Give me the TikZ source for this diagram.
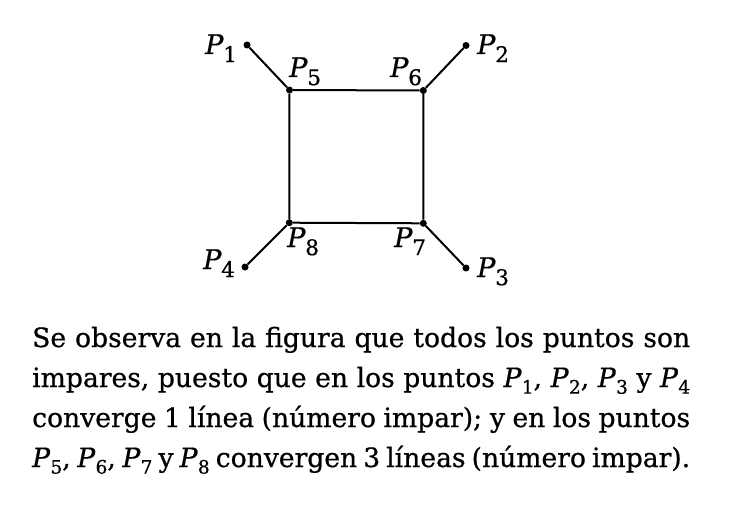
\documentclass[tikz,border=0pt]{standalone}
\usepackage{fontspec}
\setmainfont{DejaVu Serif}[FakeBold=0.7]
\usepackage{graphicx}
\usepackage{tikz}
\usetikzlibrary{calc}

\newcommand{\Pd}[1]{\textit{P}\kern-0.5pt\raisebox{-0.3em}{\scalebox{0.8}{#1}}}
\newcommand{\Pt}[1]{\textit{P}\raisebox{-0.25em}{\scalebox{0.7}{#1}}}

\begin{document}
\begin{tikzpicture}[x=1pt,y=-1pt,
    dot/.style={circle,fill=black,inner sep=0pt,minimum size=7pt},
    edge/.style={line width=2pt},
    lbl/.style={anchor=base west,inner sep=0pt,font=\fontsize{27}{27}\selectfont},
    txt/.style={anchor=base west,inner sep=0pt,font=\fontsize{26.6}{40}\selectfont}]
        \useasboundingbox (0,0) rectangle (730,519);
        %Draw nodes
        \node[dot] (p1) at (247,45) {};
        \node[dot] (p2) at (466,45.5) {};
        \node[dot] (p3) at (466,268) {};
        \node[dot] (p4) at (245,267) {};
        \node[dot] (p5) at (289.5,90) {};
        \node[dot] (p6) at (423.3,90.5) {};
        \node[dot] (p7) at (423.3,223.3) {};
        \node[dot] (p8) at (289.3,222.7) {};
        %Draw edges
        \draw[edge] (p1) -- (p5);
        \draw[edge] (p2) -- (p6);
        \draw[edge] (p3) -- (p7);
        \draw[edge] (p4) -- (p8);
        \draw[edge] (p5) -- (p6) -- (p7) -- (p8) -- (p5);
        %Labels
        \node[lbl] (l1) at (205,54) {\Pd{1}};
        \node[lbl] (l2) at (477,54) {\Pd{2}};
        \node[lbl] (l3) at (477,277) {\Pd{3}};
        \node[lbl] (l4) at (203,269) {\Pd{4}};
        \node[lbl] (l5) at (289,77) {\Pd{5}};
        \node[lbl] (l6) at (390,77) {\Pd{6}};
        \node[lbl] (l7) at (394,247) {\Pd{7}};
        \node[lbl] (l8) at (287,247) {\Pd{8}};
        %Text
        \node[txt] (line1) at (32,347) {\makebox[658pt][s]{Se observa en la figura que todos los puntos son}};
        \node[txt] (line2) at (32,387) {\makebox[658pt][s]{impares, puesto que en los puntos \Pt{1}, \Pt{2}, \Pt{3} y \Pt{4}}};
        \node[txt] (line3) at (32,427) {\makebox[658pt][s]{converge 1 línea (número impar); y en los puntos}};
        \node[txt] (line4) at (32,467) {\makebox[658pt][s]{\Pt{5}, \Pt{6}, \Pt{7} y \Pt{8} convergen 3 líneas (número impar).}};
\end{tikzpicture}
\end{document}
